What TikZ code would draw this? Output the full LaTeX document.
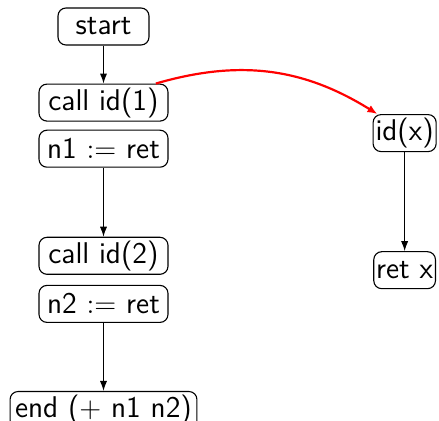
\documentclass[tikz,border=0pt]{standalone}
\usepackage{tikz}
\usetikzlibrary{arrows.meta, positioning}
\tikzstyle{bloc} = [draw, rounded corners=4pt, line width=0.55pt, inner xsep=1.2pt, inner ysep=0pt, minimum height=18.5pt, font=\fontsize{15}{18}\selectfont\sffamily]
\tikzstyle{instr} = [bloc, minimum width=64.5pt]
\tikzstyle{lien} = [-{Latex[length=5pt,width=3.6pt]}, line width=0.55pt]
\tikzstyle{appel} = [-{Latex[length=5pt,width=4pt]}, red, line width=1.1pt]

\begin{document}
\begin{tikzpicture}

	\useasboundingbox (0,0) rectangle (219.5pt,-210.5pt);

	%% Programme principal
	\node [bloc, minimum width=45.5pt] (start) at (51.75pt,-13.25pt) {start};
	\node [instr, below=19pt of start] (call1) {call id(1)};
	\node [instr, below=4pt of call1] (n1) {n1 $:=$ ret};
	\node [instr, below=34.5pt of n1] (call2) {call id(2)};
	\node [instr, below=5pt of call2] (n2) {n2 $:=$ ret};
	\node [bloc, inner xsep=2.5pt, below=34pt of n2] (end) {end ($+$ n1 n2)};

	%% Fonction id
	\node [bloc, right=102pt of call1, yshift=-15.25pt] (idx) {id(x)};
	\node [bloc, below=49.5pt of idx] (retx) {ret x};

	%% Fleches
	\draw [lien] (start) -- (call1);
	\draw [lien] (n1) -- (call2);
	\draw [lien] (n2) -- (end);
	\draw [lien] (idx) -- (retx);

	\draw [appel] (call1.20) to [bend left=24] (idx.145);

\end{tikzpicture}
\end{document}
